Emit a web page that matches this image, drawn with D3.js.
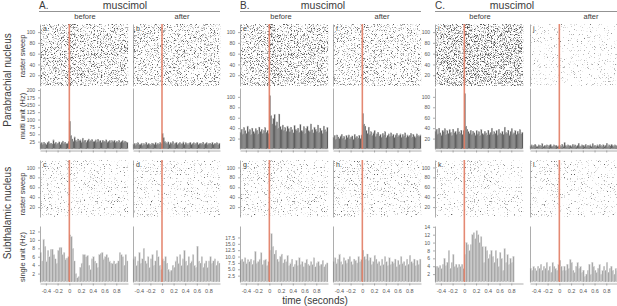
<!DOCTYPE html>
<html><head><meta charset="utf-8">
<script src="https://cdnjs.cloudflare.com/ajax/libs/d3/7.8.5/d3.min.js"></script>
<style>
body{margin:0;background:#fff;}
svg{display:block;font-family:"Liberation Sans",Arial,sans-serif;}
</style></head><body>
<svg id="chart" width="617" height="306"></svg>
<script>
// ---------- data ----------
const columnLabels = ["A.", "B.", "C."];
const drugLabel = "muscimol";
const conditionLabels = ["before", "after"];
const nucleusLabels = ["Parabrachial nucleus", "Subthalamic nucleus"];
const rowTitles = ["raster sweep", "multi unit (Hz)", "raster sweep", "single unit (Hz)"];
const topLetters = ["a.", "b.", "e.", "f.", "i.", "j."];
const bottomLetters = ["c.", "d.", "g.", "h.", "k.", "l."];
const timeTicks = [-0.4, -0.2, 0, 0.2, 0.4, 0.6, 0.8];
const sweepTicks = [20, 40, 60, 80, 100];
const multiTicks = [[25, 50, 75, 100, 125, 150, 175, 200], [20, 40, 60, 80, 100], [20, 40, 60, 80, 100]];
const singleTicks = [[2, 4, 6, 8, 10, 12], [2.5, 5, 7.5, 10, 12.5, 15, 17.5], [2, 4, 6, 8, 10, 12, 14]];

// raster spike density (0..1) per 0.1 s bin, -0.5 .. 1.0 s
const rasterA = [.55, .55, .56, .54, .55, .62, .56, .55, .54, .55, .55, .54, .55, .55, .54];
const rasterB = [.5, .5, .5, .49, .5, .52, .5, .5, .5, .49, .5, .5, .5, .5, .5];
const rasterC = [.18, .19, .18, .2, .18, .16, .18, .19, .18, .2, .18, .18, .19, .18, .18];
const rasterD = [.16, .17, .16, .16, .15, .16, .15, .16, .16, .17, .16, .16, .15, .16, .16];
const rasterE = [.55, .56, .55, .57, .55, .72, .6, .58, .58, .57, .58, .57, .58, .57, .57];
const rasterF = [.45, .44, .45, .44, .45, .55, .47, .45, .45, .46, .45, .45, .44, .45, .45];
const rasterG = [.2, .2, .21, .2, .2, .26, .22, .21, .2, .21, .2, .2, .21, .2, .2];
const rasterH = [.2, .2, .2, .21, .2, .22, .2, .2, .21, .2, .2, .2, .21, .2, .2];
const rasterI = [.68, .68, .7, .69, .68, .8, .7, .69, .7, .69, .7, .7, .69, .7, .7];
const rasterJ = [.12, .11, .12, .12, .11, .1, .09, .1, .09, .1, .09, .1, .09, .1, .09];
const rasterK = [.12, .13, .14, .13, .13, .22, .25, .2, .17, .16, .15, .15, .14, .14, .14];
const rasterL = [.12, .12, .13, .12, .12, .13, .12, .12, .12, .13, .12, .12, .12, .12, .12];

// multi unit rate (Hz), 0.02 s bins: pre = bins ending at 0, post = bins starting at 0
const multiA_pre = [18, 21, 16, 23, 19, 15, 22, 25, 18, 20, 17, 31, 19, 23, 17, 20, 24, 16, 21, 27, 19, 23, 18, 20, 25];
const multiA_post = [94, 46, 34, 27, 41, 30, 25, 34, 28, 31, 24, 37, 27, 30, 23, 29, 34, 26, 28, 32, 25, 27, 31, 24, 33, 26, 29, 23, 30, 27, 25, 31, 24, 26, 29, 22, 28, 25, 30, 23, 26, 24, 29, 22, 25, 28, 23, 27, 24, 22];
const multiB_pre = [16, 19, 14, 18, 21, 15, 17, 20, 13, 18, 16, 22, 15, 19, 17, 14, 20, 18, 16, 21, 15, 19, 17, 22, 18];
const multiB_post = [52, 38, 26, 22, 19, 24, 17, 21, 18, 25, 16, 20, 23, 15, 19, 22, 17, 18, 24, 16, 21, 19, 15, 20, 23, 17, 18, 21, 16, 19, 22, 15, 18, 20, 17, 23, 16, 19, 21, 15, 18, 20, 17, 22, 16, 19, 18, 21, 15, 20];
const multiE_pre = [32, 38, 29, 41, 35, 30, 44, 33, 37, 28, 40, 34, 31, 39, 36, 29, 42, 33, 38, 30, 35, 41, 32, 36, 30];
const multiE_post = [102, 64, 48, 58, 66, 45, 52, 40, 67, 43, 38, 46, 36, 41, 34, 44, 39, 33, 42, 37, 31, 45, 38, 35, 40, 32, 47, 36, 34, 43, 30, 39, 44, 35, 33, 48, 37, 31, 42, 38, 34, 46, 32, 40, 36, 30, 44, 37, 33, 41];
const multiF_pre = [22, 26, 19, 27, 23, 20, 25, 28, 21, 24, 18, 26, 22, 27, 20, 23, 25, 19, 28, 22, 24, 21, 26, 20, 27];
const multiF_post = [68, 48, 44, 36, 30, 42, 28, 33, 26, 31, 35, 24, 29, 32, 25, 28, 23, 30, 27, 33, 22, 26, 29, 24, 31, 25, 28, 22, 27, 30, 24, 26, 29, 23, 28, 25, 31, 22, 27, 24, 26, 30, 23, 28, 25, 22, 29, 26, 24, 27];
const multiI_pre = [34, 38, 29, 40, 31, 27, 36, 33, 39, 28, 35, 30, 37, 32, 26, 38, 31, 34, 29, 40, 33, 30, 36, 28, 35];
const multiI_post = [106, 44, 38, 33, 30, 36, 28, 34, 31, 27, 35, 29, 33, 26, 37, 30, 28, 34, 31, 27, 36, 29, 32, 40, 28, 33, 30, 35, 27, 38, 31, 29, 34, 28, 42, 32, 30, 36, 27, 33, 39, 29, 31, 35, 28, 34, 30, 37, 29, 32];
const multiJ_pre = [6, 8, 5, 7, 9, 6, 5, 8, 7, 6, 10, 5, 7, 6, 8, 5, 7, 9, 6, 5, 8, 6, 7, 5, 6];
const multiJ_post = [7, 5, 9, 6, 12, 7, 5, 8, 6, 7, 5, 9, 6, 8, 5, 7, 11, 6, 5, 8, 7, 6, 9, 5, 7, 6, 8, 5, 10, 6, 7, 5, 8, 6, 9, 7, 5, 8, 6, 7, 11, 5, 8, 6, 9, 7, 5, 8, 6, 7];

// single unit rate (Hz), 0.025 s bins
const singleC_pre = [7, 5, 10.2, 8.5, 5, 7.5, 6, 7.8, 7.8, 6.5, 5.5, 4.5, 7.5, 8.2, 8.2, 6.5, 7, 5.5, 5.7, 6];
const singleC_post = [11.2, 10.8, 8, 5, 2, 1, 1.3, 3.5, 4.5, 6.5, 6.5, 6, 6.3, 4, 3, 5.5, 6, 5, 4.5, 3.5, 6.5, 6.8, 7, 5.5, 6, 6.5, 5.8, 5, 4.5, 4.5, 5, 4.3, 4.5, 5, 7, 6.5, 6, 4, 6.5, 5];
const singleD_pre = [5.5, 6, 4, 5, 7, 4.5, 5.5, 8, 5, 4.5, 6, 3.5, 5.5, 6.5, 4, 5, 7.5, 6, 4, 3];
const singleD_post = [5.5, 5, 6, 4.5, 3, 2.5, 2.8, 4, 3.5, 5, 6, 4.5, 6.5, 4, 5.5, 7.5, 5, 4, 6, 4.5, 5, 6.5, 4, 3.5, 8.5, 5, 4.5, 6, 3.5, 4.5, 5, 3.5, 5, 6, 4.5, 5, 5.5, 4, 5, 4.5];
const singleG_pre = [8.5, 9, 8, 9.5, 7.5, 8.8, 8, 9, 7, 8.5, 12, 7.5, 8, 9, 11.5, 7, 8.5, 9, 6.5, 8];
const singleG_post = [12.5, 19, 14, 11, 12.5, 9, 8, 10, 11, 7.5, 9, 8, 10.5, 6.5, 7.5, 9, 6, 7, 8.5, 6.5, 9.5, 7, 8, 6, 7.5, 9, 7, 6.5, 8, 7, 9.5, 6, 7.5, 8, 6.5, 7, 8.5, 6, 7, 7.5];
const singleH_pre = [8, 9.5, 7.5, 9, 11, 8, 7, 9.5, 8.5, 7.5, 9, 10, 8, 7, 9, 8.5, 7.5, 10, 8, 9];
const singleH_post = [12.5, 10, 9, 11, 8.5, 9.5, 7, 8, 10.5, 9, 7.5, 8, 6.5, 9, 7, 10, 8, 6.5, 9.5, 7, 8, 7.5, 9, 6, 8.5, 7, 10, 7.5, 8, 6.5, 9, 7, 10.5, 8, 7.5, 9, 6.5, 8.5, 7, 9];
const singleK_pre = [4, 4, 3.8, 4.2, 3.5, 4.5, 6, 4.2, 5, 8, 3.5, 5, 7, 4, 4.5, 3.8, 4.5, 4, 4.5, 3.5];
const singleK_post = [7, 10, 9.5, 8, 9.5, 12, 12.5, 11, 13, 12, 10, 11.5, 9, 5, 9, 8, 6, 7, 8, 6.5, 5, 8, 6, 4, 7.5, 6, 3, 8.5, 5, 7, 4.5, 6, 5, 6.5];
const singleL_pre = [3.5, 3, 4, 3.5, 3, 4, 3.5, 4.5, 3, 4, 3.5, 5, 3, 4, 2.5, 5, 4, 3.5, 3, 4.5];
const singleL_post = [5.5, 4, 3, 4, 3, 4.5, 3.5, 5.7, 5, 3, 2.5, 4, 5, 3.5, 4, 2.5, 3, 1.5, 2, 3, 4.5, 2, 5, 4, 3, 2.5, 3.5, 4.5, 2, 3, 4, 3, 5, 2.5, 3.5, 4, 3, 2, 3.5, 3];

// ---------- layout ----------
const svg = d3.select("#chart");
const defs = svg.append("defs");
const panelX = [[40, 128], [133, 220], [240, 328], [333, 421], [435, 523], [530, 618]];
const rowY = { raster1: [86, 24], multi: [149, 88], raster2: [217, 160], single: [282, 226] };
const multiMax = [207, 117, 117];
const singleMax = [13.3, 22, 14.2];
const redColor = "#e27d64";
const txt = "#3a3a3a";

const topRasters = [rasterA, rasterB, rasterE, rasterF, rasterI, rasterJ];
const bottomRasters = [rasterC, rasterD, rasterG, rasterH, rasterK, rasterL];
const multiSets = [[multiA_pre, multiA_post], [multiB_pre, multiB_post], [multiE_pre, multiE_post], [multiF_pre, multiF_post], [multiI_pre, multiI_post], [multiJ_pre, multiJ_post]];
const singleSets = [[singleC_pre, singleC_post], [singleD_pre, singleD_post], [singleG_pre, singleG_post], [singleH_pre, singleH_post], [singleK_pre, singleK_post], [singleL_pre, singleL_post]];

// speckle filters: fine noise thresholded by spike density, one filter per density level
const thrScale = d3.scaleLinear().domain([0, 1]).range([0.662, 0.42]);
const made = new Set();
function speckle(d) {
    const key = "spk" + Math.round(d * 100);
    if (!made.has(key)) {
        made.add(key);
        const thr = thrScale(d), S = 5;
        const f = defs.append("filter").attr("id", key)
            .attr("x", 0).attr("y", 0).attr("width", 1).attr("height", 1)
            .attr("color-interpolation-filters", "sRGB");
        f.append("feTurbulence").attr("type", "fractalNoise").attr("baseFrequency", 1.3)
            .attr("numOctaves", 1).attr("seed", 5).attr("result", "n");
        f.append("feColorMatrix").attr("in", "n").attr("type", "matrix")
            .attr("values", `0 0 0 0 0.33  0 0 0 0 0.33  0 0 0 0 0.33  ${S} 0 0 0 ${-S * thr}`)
            .attr("result", "m");
        f.append("feComposite").attr("in", "m").attr("in2", "SourceGraphic").attr("operator", "in");
    }
    return `url(#${key})`;
}

function styleAxis(g) {
    g.selectAll("path, line").attr("stroke", "#8a8a8a").attr("stroke-width", 0.7);
    g.selectAll("text").attr("fill", "#555").style("font-size", "5px");
}

function rasterPanel(i, dens, yr, letter) {
    const x = d3.scaleLinear().domain([-0.5, 1.0]).range(panelX[i]);
    const y = d3.scaleLinear().domain([0, 115]).range(yr);
    const g = svg.append("g");
    g.selectAll("rect").data(dens).enter().append("rect")
        .attr("x", (d, k) => x(-0.5 + k * 0.1))
        .attr("width", (d, k) => x(-0.4 + k * 0.1) - x(-0.5 + k * 0.1) + 0.2)
        .attr("y", yr[1]).attr("height", yr[0] - yr[1])
        .attr("fill", "#000")
        .attr("filter", d => speckle(d));
    const ax = d3.axisLeft(y).tickValues(i % 2 === 0 ? sweepTicks : []).tickSize(2).tickSizeOuter(0);
    svg.append("g").attr("transform", `translate(${panelX[i][0]},0)`).call(ax).call(styleAxis);
    svg.append("text").attr("x", panelX[i][0] + 3).attr("y", yr[1] + 7)
        .attr("fill", txt).style("font-size", "7px")
        .attr("stroke", "#fff").attr("stroke-width", 2).attr("paint-order", "stroke")
        .text(letter);
}

function histPanel(i, pre, post, w, yr, ymax, ticks, fmt, fill, stroke, labels) {
    const x = d3.scaleLinear().domain([-0.5, 1.0]).range(panelX[i]);
    const y = d3.scaleLinear().domain([0, ymax]).range(yr);
    const bars = pre.map((v, k) => ({ t: -(pre.length - k) * w, v }))
        .concat(post.map((v, k) => ({ t: k * w, v })));
    svg.append("g").selectAll("rect").data(bars).enter().append("rect")
        .attr("x", d => x(d.t)).attr("width", d => x(d.t + w) - x(d.t))
        .attr("y", d => y(d.v)).attr("height", d => y(0) - y(d.v))
        .attr("fill", fill).attr("stroke", stroke).attr("stroke-width", 0.35);
    const ax = d3.axisLeft(y).tickValues(i % 2 === 0 ? ticks : []).tickFormat(fmt).tickSize(2).tickSizeOuter(0);
    svg.append("g").attr("transform", `translate(${panelX[i][0]},0)`).call(ax).call(styleAxis);
    const bx = d3.axisBottom(x).tickValues(timeTicks).tickSize(2).tickSizeOuter(0)
        .tickFormat(labels ? (d => String(d)) : "");
    svg.append("g").attr("transform", `translate(0,${yr[0] + 1.5})`).call(bx).call(styleAxis)
        .call(g => g.selectAll("text").attr("dy", "0.9em").style("font-size", "5.5px"));
}

for (let i = 0; i < 6; i++) {
    const c = Math.floor(i / 2);
    rasterPanel(i, topRasters[i], rowY.raster1, topLetters[i]);
    rasterPanel(i, bottomRasters[i], rowY.raster2, bottomLetters[i]);
    histPanel(i, multiSets[i][0], multiSets[i][1], 0.02, rowY.multi, multiMax[c], multiTicks[c],
        d3.format("d"), "#4e4e4e", "#a8a8a8", false);
    histPanel(i, singleSets[i][0], singleSets[i][1], 0.025, rowY.single, singleMax[c], singleTicks[c],
        c === 1 ? d3.format(".1f") : d3.format("d"), "#a4a4a4", "#dcdcdc", true);
    // stimulus onset line
    const x0 = d3.scaleLinear().domain([-0.5, 1.0]).range(panelX[i])(0);
    [[rowY.raster1[1], rowY.multi[0]], [rowY.raster2[1], rowY.single[0]]].forEach(([a, b]) => {
        svg.append("line").attr("x1", x0).attr("x2", x0).attr("y1", a).attr("y2", b)
            .attr("stroke", redColor).attr("stroke-width", 1.6).attr("opacity", 0.9);
    });
}

// ---------- headers ----------
const headStart = [39, 240, 435], headEnd = [220, 421, 617], drugX = [125, 323, 512];
const condX = [[85, 182], [281, 382], [480, 591]];
columnLabels.forEach((lab, c) => {
    svg.append("text").attr("x", headStart[c]).attr("y", 9).attr("fill", txt).style("font-size", "10px").text(lab);
    svg.append("text").attr("x", drugX[c]).attr("y", 9).attr("text-anchor", "middle").attr("fill", txt)
        .style("font-size", "10.5px").text(drugLabel);
    svg.append("line").attr("x1", headStart[c]).attr("x2", headEnd[c]).attr("y1", 11.5).attr("y2", 11.5)
        .attr("stroke", "#777").attr("stroke-width", 0.8);
    conditionLabels.forEach((cl, k) => {
        svg.append("text").attr("x", condX[c][k]).attr("y", 19).attr("text-anchor", "middle")
            .attr("fill", txt).style("font-size", "7.5px").text(cl);
    });
});

// row labels
const nucY = [80, 213];
nucleusLabels.forEach((t, r) => {
    svg.append("text").attr("transform", `translate(11,${nucY[r]}) rotate(-90)`).attr("text-anchor", "middle")
        .attr("fill", txt).style("font-size", "10px").text(t);
});
const titleY = [56, 116, 194, 257];
rowTitles.forEach((t, r) => {
    svg.append("text").attr("transform", `translate(25,${titleY[r]}) rotate(-90)`).attr("text-anchor", "middle")
        .attr("fill", txt).style("font-size", "7.5px").text(t);
});

svg.append("text").attr("x", 315).attr("y", 304).attr("text-anchor", "middle").attr("fill", txt)
    .style("font-size", "10px").text("time (seconds)");
</script>
</body></html>
